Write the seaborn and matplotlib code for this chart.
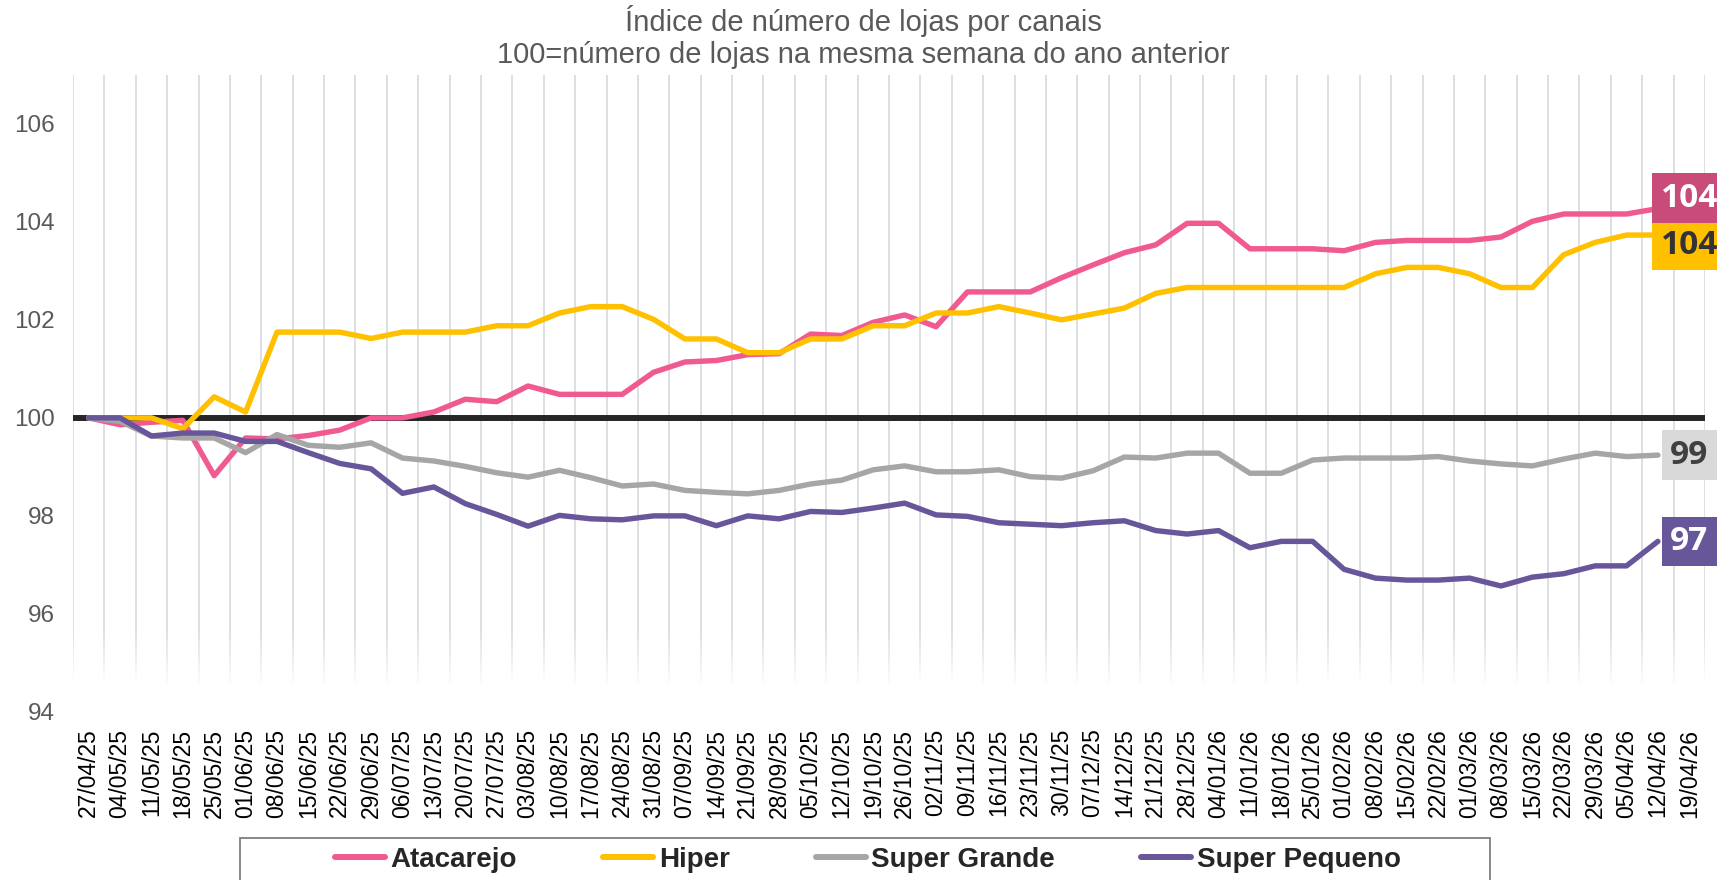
import matplotlib
matplotlib.use('Agg')
import matplotlib.pyplot as plt
from matplotlib.lines import Line2D
from matplotlib.patches import Rectangle
import pandas as pd
import seaborn as sns

# weekly dates (last week has no data, used for end labels)
dates = ['27/04/25', '04/05/25', '11/05/25', '18/05/25', '25/05/25', '01/06/25', '08/06/25',
         '15/06/25', '22/06/25', '29/06/25', '06/07/25', '13/07/25', '20/07/25', '27/07/25',
         '03/08/25', '10/08/25', '17/08/25', '24/08/25', '31/08/25', '07/09/25', '14/09/25',
         '21/09/25', '28/09/25', '05/10/25', '12/10/25', '19/10/25', '26/10/25', '02/11/25',
         '09/11/25', '16/11/25', '23/11/25', '30/11/25', '07/12/25', '14/12/25', '21/12/25',
         '28/12/25', '04/01/26', '11/01/26', '18/01/26', '25/01/26', '01/02/26', '08/02/26',
         '15/02/26', '22/02/26', '01/03/26', '08/03/26', '15/03/26', '22/03/26', '29/03/26',
         '05/04/26', '12/04/26', '19/04/26']

atacarejo = [100.0, 99.86, 99.91, 99.95, 98.82, 99.59, 99.57, 99.64, 99.75, 100.0,
             100.0, 100.12, 100.38, 100.33, 100.65, 100.48, 100.48, 100.48, 100.93, 101.14,
             101.17, 101.29, 101.31, 101.71, 101.68, 101.95, 102.10, 101.86, 102.57, 102.57,
             102.57, 102.86, 103.12, 103.37, 103.53, 103.97, 103.97, 103.45, 103.45, 103.45,
             103.41, 103.58, 103.62, 103.62, 103.62, 103.69, 104.01, 104.16, 104.16, 104.16,
             104.27]
hiper = [100.0, 100.0, 100.0, 99.78, 100.43, 100.12, 101.75, 101.75, 101.75, 101.62,
         101.75, 101.75, 101.75, 101.88, 101.88, 102.14, 102.27, 102.27, 102.01, 101.61,
         101.61, 101.33, 101.33, 101.61, 101.61, 101.88, 101.88, 102.14, 102.14, 102.27,
         102.14, 102.0, 102.12, 102.24, 102.54, 102.66, 102.66, 102.66, 102.66, 102.66,
         102.66, 102.94, 103.07, 103.07, 102.94, 102.66, 102.66, 103.33, 103.58, 103.73,
         103.73]
super_grande = [100.0, 99.93, 99.63, 99.59, 99.59, 99.29, 99.66, 99.44, 99.40, 99.49,
                99.18, 99.12, 99.01, 98.88, 98.79, 98.93, 98.78, 98.61, 98.65, 98.52,
                98.48, 98.45, 98.52, 98.65, 98.73, 98.94, 99.02, 98.90, 98.90, 98.94,
                98.80, 98.77, 98.92, 99.20, 99.18, 99.28, 99.28, 98.87, 98.87, 99.14,
                99.18, 99.18, 99.18, 99.21, 99.12, 99.06, 99.02, 99.16, 99.28, 99.21,
                99.24]
super_pequeno = [100.0, 100.0, 99.63, 99.69, 99.69, 99.52, 99.52, 99.29, 99.07, 98.96,
                 98.46, 98.59, 98.25, 98.03, 97.79, 98.01, 97.94, 97.92, 98.0, 98.0,
                 97.80, 98.0, 97.94, 98.09, 98.07, 98.16, 98.26, 98.02, 97.99, 97.86,
                 97.83, 97.80, 97.86, 97.90, 97.70, 97.63, 97.70, 97.35, 97.48, 97.48,
                 96.91, 96.73, 96.69, 96.69, 96.73, 96.57, 96.75, 96.82, 96.98, 96.98,
                 97.48]

series = {'Atacarejo': atacarejo, 'Hiper': hiper,
          'Super Grande': super_grande, 'Super Pequeno': super_pequeno}
colors = {'Atacarejo': '#F05A91', 'Hiper': '#FFC000',
          'Super Grande': '#A6A6A6', 'Super Pequeno': '#67579A'}
# end label box colour, text colour
label_style = {'Atacarejo': ('#C84B79', 'white'), 'Hiper': ('#FFC000', '#333333'),
               'Super Grande': ('#D9D9D9', '#404040'), 'Super Pequeno': ('#67579A', 'white')}

rows = []
for name, vals in series.items():
    for i, v in enumerate(vals):
        rows.append({'semana': i, 'indice': v, 'canal': name})
df = pd.DataFrame(rows)

sns.set_theme(style='white')
plt.rcParams['font.family'] = ['Liberation Sans', 'DejaVu Sans']

fig = plt.figure(figsize=(17.17, 8.8), dpi=100)
ax = fig.add_axes([0.0425, 0.191, 0.9505, 0.724])

# vertical separators between weeks, fading out near the bottom
grid_color = '#DCE0E3'
bounds = [i - 0.5 for i in range(len(dates) + 1)]
ax.vlines(bounds, 95.6, 107, color=grid_color, lw=1.4, zorder=0)
for k in range(8):
    ax.vlines(bounds, 95.6 - (k + 1) * 0.13, 95.6 - k * 0.13, color=grid_color,
              lw=1.4, alpha=1 - (k + 1) / 9, zorder=0)

ax.axhline(100, color='#262626', lw=4.3, zorder=1.5)

sns.lineplot(data=df, x='semana', y='indice', hue='canal', palette=colors,
             linewidth=3.9, legend=False, ax=ax, zorder=3)

ax.set_xlim(-0.5, len(dates) - 0.5)
ax.set_ylim(94, 107)
ax.set_yticks(range(94, 107, 2))
ax.set_xticks(range(len(dates)))
ax.set_xticklabels(dates, rotation=90, fontsize=16.5, color='black')
ax.tick_params(axis='x', length=0, pad=12)
ax.tick_params(axis='y', length=0, pad=13, labelsize=17.5, labelcolor='#595959')
ax.set_xlabel('')
ax.set_ylabel('')
for s in ax.spines.values():
    s.set_visible(False)

# end labels, spread apart when they would overlap
last = {name: vals[-1] for name, vals in series.items()}
order = sorted(last, key=last.get)
pos = {n: last[n] for n in order}
gap = 0.97
for a, b in zip(order[:-1], order[1:]):
    if pos[b] - pos[a] < gap:
        mid = (pos[a] + pos[b]) / 2
        pos[a], pos[b] = mid - gap / 2, mid + gap / 2
for name in order:
    bc, tc = label_style[name]
    ax.text(len(dates) - 1, pos[name], f'{last[name]:.0f}', ha='center', va='center',
            fontsize=24, fontweight='bold', family=['Open Sans', 'DejaVu Sans'], color=tc,
            bbox=dict(boxstyle='square,pad=0.25', fc=bc, ec='none'), clip_on=False, zorder=5)

fig.text(0.503, 0.958, 'Índice de número de lojas por canais\n'
         '100=número de lojas na mesma semana do ano anterior',
         ha='center', va='center', fontsize=21, color='#595959', linespacing=1.15)

handles = [Line2D([0], [0], color=colors[n], lw=4.3, solid_capstyle='round') for n in series]
fig.legend(handles, list(series), loc='center', bbox_to_anchor=(0.5055, 1 - 860 / 880),
           ncol=4, frameon=False, handlelength=1.8, handletextpad=0.2, columnspacing=3.1,
           prop={'weight': 'bold', 'size': 20})
fig.patches.append(Rectangle((240 / 1717, -0.02), 1250 / 1717, 0.0677,
                             transform=fig.transFigure, fill=False,
                             edgecolor='#7F7F7F', lw=1.3))

fig.savefig('out.png', dpi=100)
